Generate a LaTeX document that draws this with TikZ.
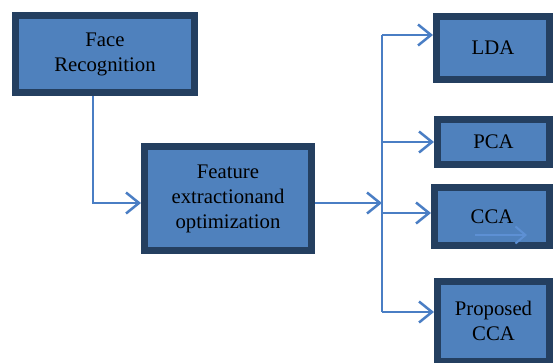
\documentclass[tikz,border=0pt]{standalone}
\usepackage{fontspec}
\setmainfont{Liberation Serif}
\newfontfamily\boxfont{Liberation Serif}
\usetikzlibrary{arrows.meta}

\definecolor{boxfill}{HTML}{4F81BD}
\definecolor{boxline}{HTML}{243F60}
\definecolor{wire}{HTML}{4A7EC4}
\definecolor{ghost}{HTML}{5D90D4}

\tikzset{
  box/.style={draw=boxline, fill=boxfill, line width=0.14cm, align=center,
    font=\boxfont\fontsize{11.8pt}{14.2pt}\selectfont, inner sep=0pt},
  wire/.style={draw=wire, line width=0.045cm,
    -{Straight Barb[length=2.6mm,width=4.2mm,line width=0.05cm]}}
}

\begin{document}
\begin{tikzpicture}[x=0.02cm, y=-0.02cm]
\useasboundingbox (0,0) rectangle (554,362);

\node[box, minimum width=179*0.02cm, minimum height=77*0.02cm] (face) at (105,54) {Face\\Recognition};
\node[box, minimum width=167*0.02cm, minimum height=104*0.02cm] (feat) at (228,198.5) {Feature\\extractionand\\optimization};

\node[box, minimum width=113*0.02cm, minimum height=63*0.02cm] (lda) at (493,48) {LDA};
\node[box, minimum width=112*0.02cm, minimum height=45*0.02cm] (pca) at (493.5,142) {PCA};
\node[box, minimum width=115*0.02cm, minimum height=58*0.02cm] (cca) at (492,216.5) {CCA};
\node[box, minimum width=112*0.02cm, minimum height=80*0.02cm] (prop) at (493.5,321) {Proposed\\CCA};

\coordinate (bend) at (93,203);
\coordinate (top) at (382,35);
\coordinate (bot) at (382,312);
\coordinate (hit) at (382,203);
\coordinate (cbr) at (382,213);

% face recognition down into feature box
\draw[wire] (face.south -| bend) -- (bend) -- (bend -| feat.west);
\draw[wire] (feat.east |- hit) -- (hit);

% the bus
\draw[draw=wire, line width=0.045cm] (top) -- (bot);
\draw[wire] (top) -- (top -| lda.west);
\draw[wire] (pca.west -| top) -- (pca.west);
\draw[wire] (cbr) -- (cbr -| cca.west);
\draw[wire] (bot) -- (bot -| prop.west);

% faint arrow left in the cca box
\coordinate (g1) at (475,235);
\coordinate (g2) at (527,235);
\draw[draw=ghost, line width=0.04cm, -{Straight Barb[length=2mm,width=3.4mm]}] (g1) -- (g2);
\end{tikzpicture}
\end{document}
